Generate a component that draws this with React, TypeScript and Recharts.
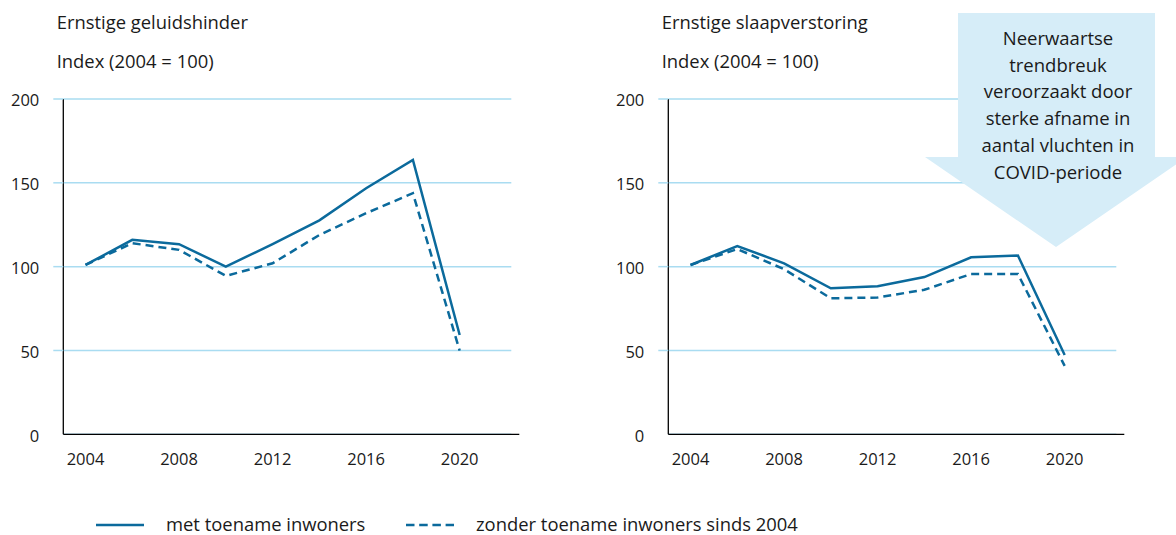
import React from "react";
import { LineChart, Line, XAxis, YAxis, CartesianGrid } from "recharts";

const years = [2004, 2006, 2008, 2010, 2012, 2014, 2016, 2018, 2020];
const hinderMet = [101, 116, 113.4, 100, 113.5, 127.6, 146.8, 163.7, 59.2];
const hinderZonder = [101, 114, 110, 94.5, 102, 118.9, 131.9, 143.8, 49.9];
const slaapMet = [101, 112.3, 102, 87.1, 88.3, 93.8, 105.6, 106.6, 47.3];
const slaapZonder = [101, 110.5, 98.5, 81.1, 81.6, 86.2, 95.6, 95.6, 40.8];
const yTicks = [0, 50, 100, 150, 200];
const xTicks = [2004, 2008, 2012, 2016, 2020];

const BLUE = "#0b6a9c";
const GRID = "#a9dcf1";
const ARROW = "#d6edf8";
const TEXT = "#1a1a1a";
const FONT = "'Open Sans', sans-serif";

const YTick = (props: any) => {
  const { x, y, payload } = props;
  return (
    <g>
      {payload.value > 0 && (
        <line x1={x + 14} x2={x + 24} y1={y} y2={y} stroke={GRID} strokeWidth={1.5} />
      )}
      <text x={x} y={y} dy="0.45em" textAnchor="end" fill={TEXT} fontSize={16.5} fontFamily={FONT}>
        {payload.value}
      </text>
    </g>
  );
};

interface PanelProps {
  left: number;
  met: number[];
  zonder: number[];
}

function Panel({ left, met, zonder }: PanelProps) {
  const data = years.map((year, i) => ({ year, met: met[i], zonder: zonder[i] }));
  return (
    <div style={{ position: "absolute", left, top: 80 }}>
      <LineChart
        width={530}
        height={400}
        data={data}
        margin={{ top: 19, right: 10.7, bottom: 5.7, left: 0 }}
      >
        <CartesianGrid vertical={false} stroke={GRID} strokeWidth={1.5} width={448} />
        <XAxis
          type="number"
          dataKey="year"
          domain={[2003.05, 2022.55]}
          ticks={xTicks}
          allowDataOverflow
          tickLine={false}
          tickSize={6}
          tickMargin={13}
          height={40}
          axisLine={{ stroke: "#000", strokeWidth: 1.3 }}
          tick={{ fill: TEXT, fontSize: 16.5, fontFamily: FONT }}
        />
        <YAxis
          type="number"
          domain={[0, 200]}
          ticks={yTicks}
          interval={0}
          width={63.3}
          tickSize={10}
          tickMargin={14}
          tickLine={false}
          axisLine={{ stroke: "#000", strokeWidth: 1.3 }}
          tick={<YTick />}
        />
        <Line
          type="linear"
          dataKey="zonder"
          stroke={BLUE}
          strokeWidth={2.5}
          strokeDasharray="8 5"
          dot={false}
          activeDot={false}
          isAnimationActive={false}
        />
        <Line
          type="linear"
          dataKey="met"
          stroke={BLUE}
          strokeWidth={2.5}
          dot={false}
          activeDot={false}
          isAnimationActive={false}
        />
      </LineChart>
    </div>
  );
}

const arrowLines = [
  "Neerwaartse",
  "trendbreuk",
  "veroorzaakt door",
  "sterke afname in",
  "aantal vluchten in",
  "COVID-periode",
];

export default function App() {
  return (
    <div style={{ position: "absolute", left: 0, top: 0, width: 1176, height: 535, background: "#fff" }}>
      <svg width={1176} height={80} style={{ position: "absolute", left: 0, top: 0 }}>
        <g fill={TEXT} fontSize={18.4} fontFamily={FONT}>
          <text x={56.7} y={29.3}>Ernstige geluidshinder</text>
          <text x={56.7} y={68.3}>Index (2004 = 100)</text>
          <text x={661.7} y={29.3}>Ernstige slaapverstoring</text>
          <text x={661.7} y={68.3}>Index (2004 = 100)</text>
        </g>
      </svg>
      <Panel left={0} met={hinderMet} zonder={hinderZonder} />
      <Panel left={605} met={slaapMet} zonder={slaapZonder} />
      <svg width={1176} height={260} style={{ position: "absolute", left: 0, top: 0, pointerEvents: "none" }}>
        <polygon
          points="958,13 1155,13 1155,157 1187,157 1056,247 925,157 958,157"
          fill={ARROW}
        />
        <g fill={TEXT} fontSize={18.5} fontFamily={FONT} textAnchor="middle">
          {arrowLines.map((l, i) => (
            <text key={l} x={1058} y={45 + i * 26.7}>
              {l}
            </text>
          ))}
        </g>
      </svg>
      <svg width={900} height={35} style={{ position: "absolute", left: 0, top: 500, overflow: "visible" }}>
        <line x1={96} x2={144} y1={25} y2={25} stroke={BLUE} strokeWidth={2.5} />
        <line x1={406} x2={454} y1={25} y2={25} stroke={BLUE} strokeWidth={2.5} strokeDasharray="8.5 4.7" />
        <g fill={TEXT} fontSize={18.4} fontFamily={FONT}>
          <text x={166} y={31}>met toename inwoners</text>
          <text x={476} y={31}>zonder toename inwoners sinds 2004</text>
        </g>
      </svg>
    </div>
  );
}
